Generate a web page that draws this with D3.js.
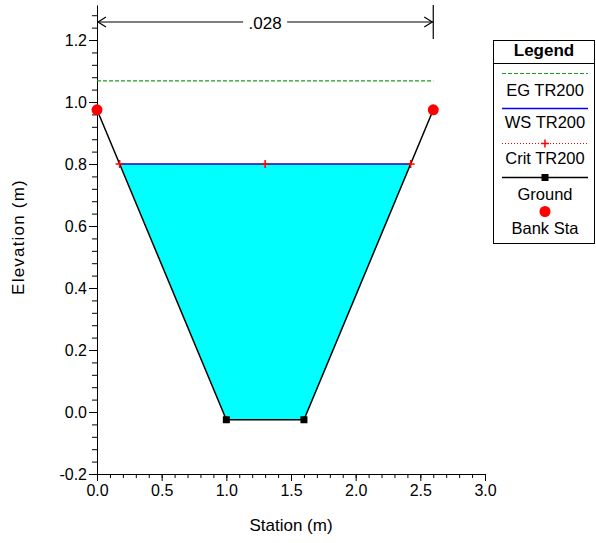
<!DOCTYPE html>
<html>
<head>
<meta charset="utf-8">
<script src="https://cdn.jsdelivr.net/npm/d3@7"></script>
<style>
  html, body { margin: 0; padding: 0; background: #fff; }
  svg { display: block; font-family: "Liberation Sans", Arial, sans-serif; }
</style>
</head>
<body>
<svg id="chart" width="596" height="543"></svg>
<script>
// Cross-section geometry
const station = [0.0, 1.0, 1.6, 2.6];
const elevation = [0.975, -0.025, -0.025, 0.975];
const bankStations = [0.0, 2.6];
const wsElev = 0.8;      // water surface, profile TR200
const critElev = 0.8;    // critical depth, profile TR200
const egElev = 1.068;    // energy grade, profile TR200
const manningN = [".028"];

const xTicks = [0.0, 0.5, 1.0, 1.5, 2.0, 2.5, 3.0];
const yTicks = [-0.2, 0.0, 0.2, 0.4, 0.6, 0.8, 1.0, 1.2];
const legendLabels = ["EG TR200", "WS TR200", "Crit TR200", "Ground", "Bank Sta"];

const FONT = "Liberation Sans, Arial, sans-serif";
const EG_COLOR = "#1f9a1f";

const svg = d3.select("#chart");
const x = d3.scaleLinear().domain([0, 3.0]).range([97, 485]);
const y = d3.scaleLinear().domain([-0.2, 1.313]).range([474, 5]);

const ground = station.map((s, i) => ({ s, z: elevation[i] }));

// Where a horizontal level meets the ground on each side
function crossings(level) {
  const pts = [];
  for (let i = 0; i < ground.length - 1; i++) {
    const a = ground[i], b = ground[i + 1];
    if ((a.z - level) * (b.z - level) < 0) {
      const t = (level - a.z) / (b.z - a.z);
      pts.push(a.s + t * (b.s - a.s));
    }
  }
  return pts;
}
const wsEdges = crossings(wsElev);
const critEdges = crossings(critElev);

// Water fill: surface line plus ground below it
const fillPts = [{ s: wsEdges[0], z: wsElev }]
  .concat(ground.filter(p => p.s > wsEdges[0] && p.s < wsEdges[1]))
  .concat([{ s: wsEdges[1], z: wsElev }]);
svg.append("path")
  .attr("d", d3.line().x(p => x(p.s)).y(p => y(p.z))(fillPts) + "Z")
  .attr("fill", "#00ffff");

// Axes: minor ticks first, then labelled majors
const xMinor = d3.range(0, 31).map(i => i / 10);
const yMinor = d3.range(0, 38).map(i => -0.2 + i * 0.04);
const fmt = d => d.toFixed(1);

svg.append("g").attr("transform", "translate(0,474)")
  .call(d3.axisBottom(x).tickValues(xMinor).tickSize(4).tickSizeOuter(0).tickFormat(""))
  .call(g => g.select(".domain").remove());
svg.append("g").attr("transform", "translate(97,0)")
  .call(d3.axisLeft(y).tickValues(yMinor).tickSize(5).tickSizeOuter(0).tickFormat(""))
  .call(g => g.select(".domain").remove());

const xAxis = svg.append("g").attr("transform", "translate(0,474)")
  .call(d3.axisBottom(x).tickValues(xTicks).tickSize(7).tickSizeOuter(0).tickPadding(4).tickFormat(fmt));
const yAxis = svg.append("g").attr("transform", "translate(97,0)")
  .call(d3.axisLeft(y).tickValues(yTicks).tickSize(8).tickSizeOuter(0).tickPadding(2).tickFormat(fmt));
[xAxis, yAxis].forEach(g => {
  g.selectAll("text").attr("font-size", 16).attr("fill", "#000").attr("font-family", FONT);
  g.select(".domain").attr("stroke", "#000");
});
svg.selectAll(".tick line").attr("stroke", "#000");

svg.append("text").attr("x", 291).attr("y", 531).attr("text-anchor", "middle")
  .attr("font-size", 17).text("Station (m)");
svg.append("text").attr("transform", "translate(24,237) rotate(-90)").attr("text-anchor", "middle")
  .attr("font-size", 17).attr("letter-spacing", "1.2px").text("Elevation (m)");

// Manning's n dimension line across the section
const nLeft = x(station[0]), nRight = x(station[station.length - 1]);
const nY = 22, nMid = (nLeft + nRight) / 2;
const dim = svg.append("g").attr("stroke", "#000").attr("stroke-width", 1.2).attr("fill", "none");
dim.append("line").attr("x1", nRight).attr("x2", nRight).attr("y1", 5).attr("y2", 39);
dim.append("line").attr("x1", nLeft).attr("x2", nMid - 22).attr("y1", nY).attr("y2", nY);
dim.append("line").attr("x1", nMid + 22).attr("x2", nRight).attr("y1", nY).attr("y2", nY);
dim.append("path").attr("d", `M${nLeft + 9},${nY - 5}L${nLeft + 1},${nY}L${nLeft + 9},${nY + 5}`);
dim.append("path").attr("d", `M${nRight - 9},${nY - 5}L${nRight - 1},${nY}L${nRight - 9},${nY + 5}`);
svg.append("text").attr("x", nMid).attr("y", 29).attr("text-anchor", "middle")
  .attr("font-size", 17).text(manningN[0]);

// Ground line
svg.append("path")
  .attr("d", d3.line().x(p => x(p.s)).y(p => y(p.z))(ground))
  .attr("fill", "none").attr("stroke", "#000").attr("stroke-width", 1.5);

// Energy grade
svg.append("line")
  .attr("x1", x(station[0])).attr("x2", x(station[station.length - 1]))
  .attr("y1", y(egElev)).attr("y2", y(egElev))
  .style("stroke", EG_COLOR).attr("stroke-width", 1.2).attr("stroke-dasharray", "4,2");

// Water surface
svg.append("line")
  .attr("x1", x(wsEdges[0])).attr("x2", x(wsEdges[1]))
  .attr("y1", y(wsElev)).attr("y2", y(wsElev))
  .style("stroke", "#0000ff").attr("stroke-width", 1.5);

// Critical depth
svg.append("line")
  .attr("x1", x(critEdges[0])).attr("x2", x(critEdges[1]))
  .attr("y1", y(critElev)).attr("y2", y(critElev))
  .style("stroke", "#ff0000").attr("stroke-width", 1).attr("stroke-dasharray", "1,2");
const critMarks = [critEdges[0], (critEdges[0] + critEdges[1]) / 2, critEdges[1]];
function plus(g, cx, cy, r) {
  g.append("path").attr("d", `M${cx - r},${cy}H${cx + r}M${cx},${cy - r}V${cy + r}`)
    .style("stroke", "#ff0000").attr("stroke-width", 1.5);
}
critMarks.forEach(s => plus(svg, x(s), y(critElev), 4));

// Ground points and bank stations
svg.selectAll("rect.gpt").data(ground.filter(p => !bankStations.includes(p.s))).join("rect")
  .attr("class", "gpt")
  .attr("x", p => x(p.s) - 3.5).attr("y", p => y(p.z) - 3.5)
  .attr("width", 7).attr("height", 7).attr("fill", "#000");
svg.selectAll("circle.bank").data(bankStations).join("circle")
  .attr("class", "bank")
  .attr("cx", s => x(s)).attr("cy", s => y(elevation[station.indexOf(s)]))
  .attr("r", 5.5).attr("fill", "#ff0000");

// Legend
const lg = svg.append("g");
lg.append("rect").attr("x", 493.5).attr("y", 40.5).attr("width", 101).attr("height", 203)
  .attr("fill", "#fff").attr("stroke", "#000").attr("stroke-width", 1);
lg.append("line").attr("x1", 493.5).attr("x2", 594.5).attr("y1", 63.5).attr("y2", 63.5)
  .attr("stroke", "#000");
lg.append("text").attr("x", 544).attr("y", 56).attr("text-anchor", "middle")
  .attr("font-size", 17).attr("font-weight", "bold").text("Legend");
const lx1 = 502, lx2 = 588, lcx = 545;
const lineYs = [73.5, 108.5, 143.5, 177.5, 211.5];
const textYs = [96, 128, 163.5, 199.5, 233.5];
lg.append("line").attr("x1", lx1).attr("x2", lx2).attr("y1", lineYs[0]).attr("y2", lineYs[0])
  .style("stroke", EG_COLOR).attr("stroke-width", 1.2).attr("stroke-dasharray", "4,2");
lg.append("line").attr("x1", lx1).attr("x2", lx2).attr("y1", lineYs[1]).attr("y2", lineYs[1])
  .style("stroke", "#0000ff").attr("stroke-width", 1.5);
lg.append("line").attr("x1", lx1).attr("x2", lx2).attr("y1", lineYs[2]).attr("y2", lineYs[2])
  .style("stroke", "#ff0000").attr("stroke-width", 1).attr("stroke-dasharray", "1,2");
plus(lg, lcx, lineYs[2], 4);
lg.append("line").attr("x1", lx1).attr("x2", lx2).attr("y1", lineYs[3]).attr("y2", lineYs[3])
  .style("stroke", "#000").attr("stroke-width", 1.5);
lg.append("rect").attr("x", lcx - 3.5).attr("y", lineYs[3] - 3.5).attr("width", 7).attr("height", 7)
  .attr("fill", "#000");
lg.append("circle").attr("cx", lcx).attr("cy", lineYs[4]).attr("r", 5.5).attr("fill", "#ff0000");
legendLabels.forEach((t, i) => {
  lg.append("text").attr("x", lcx).attr("y", textYs[i]).attr("text-anchor", "middle")
    .attr("font-size", 16.5).text(t);
});
</script>
</body>
</html>
